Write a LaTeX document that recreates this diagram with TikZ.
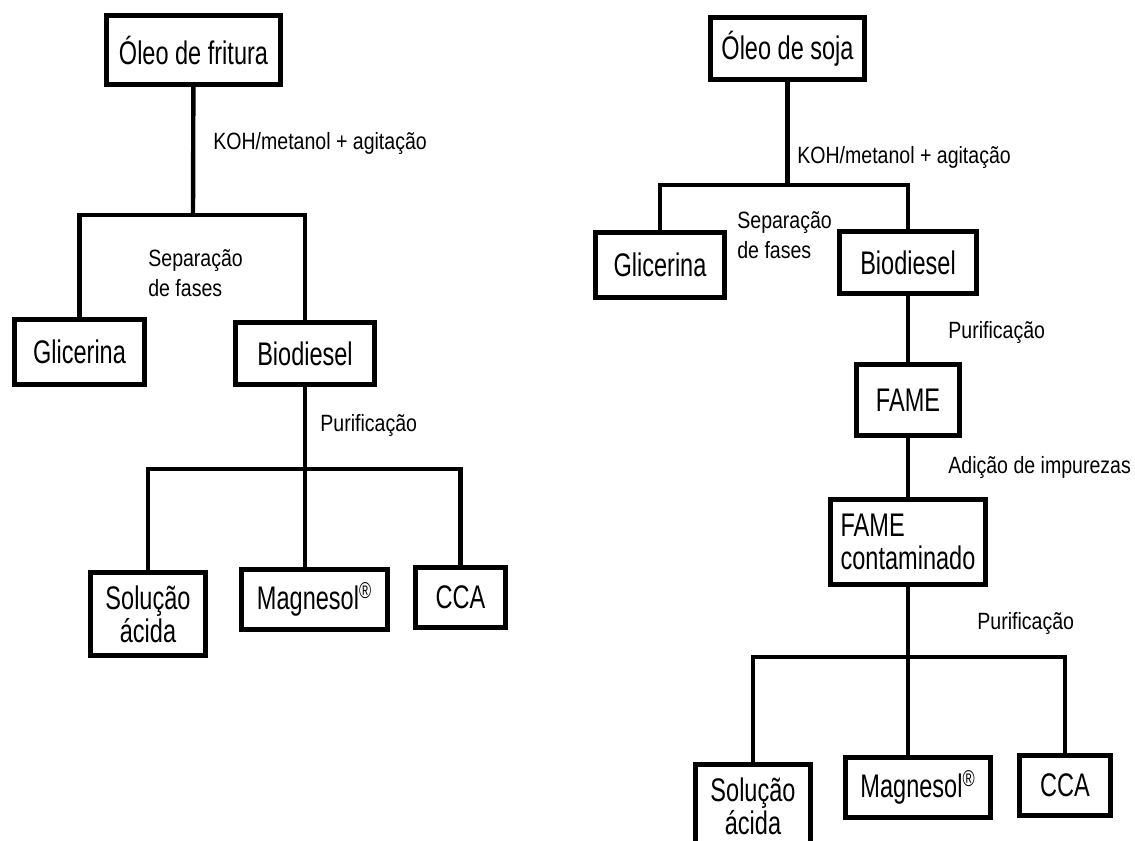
\documentclass[tikz,border=0pt]{standalone}
\usepackage{fontspec}
\setmainfont{Liberation Sans}
\newfontfamily\boxfont[FakeStretch=0.72]{Liberation Sans}
\newfontfamily\stepfont[FakeStretch=0.83]{Liberation Sans}

\begin{document}
\begin{tikzpicture}[x=0.02cm, y=-0.02cm,
  box/.style={rectangle, draw, line width=2.85pt, inner sep=2pt, align=center, font=\boxfont\fontsize{18.6}{18.8}\selectfont},
  steplabel/.style={anchor=west, inner sep=0pt, align=left, font=\stepfont\fontsize{13.4}{17.1}\selectfont},
  link/.style={line width=2.5pt}
]
  \useasboundingbox (0,0) rectangle (1135,841);

  % Left tree - frying oil
  \node[box, minimum width=3.48cm, minimum height=1.38cm] (fritura) at (193.5,50) {Óleo de fritura};
  \node[box, minimum width=2.6cm, minimum height=1.3cm] (glic1) at (79.5,352) {Glicerina};
  \node[box, minimum width=2.78cm, minimum height=1.24cm] (bio1) at (305,353.5) {Biodiesel};
  \node[box, minimum width=2.3cm, minimum height=1.66cm] (sol1) at (148,614) {Solução\\ácida};
  \node[box, minimum width=2.92cm, minimum height=1.2cm] (mag1) at (314.5,599.5) {Magnesol\textsuperscript{®}};
  \node[box, minimum width=1.8cm, minimum height=1.2cm] (cca1) at (460.5,597.5) {CCA};

  \coordinate (split1) at (193,215);
  \coordinate (split2) at (305,469);

  \draw[link] (fritura) -- (split1);
  \draw[link] (glic1.north) |- (split1) -| (bio1.north);
  \draw[link] (bio1) -- (split2);
  \draw[link] (sol1.north) |- (split2) -| (cca1.north);
  \draw[link] (split2) -- (split2 |- mag1.north);

  \node[steplabel] (koh1) at (213,143) {KOH/metanol + agitação};
  \node[steplabel] (sep1) at (148,273) {Separação\\de fases};
  \node[steplabel] (pur1) at (320,425) {Purificação};

  % Right tree - soybean oil
  \node[box, minimum width=3.08cm, minimum height=1.24cm] (soja) at (787.5,48.5) {Óleo de soja};
  \node[box, minimum width=2.58cm, minimum height=1.3cm] (glic2) at (660,265) {Glicerina};
  \node[box, minimum width=2.74cm, minimum height=1.24cm] (bio2) at (908,262.5) {Biodiesel};
  \node[box, minimum width=2.06cm, minimum height=1.42cm] (fame) at (908,400) {FAME};
  \node[box, minimum width=3.1cm, minimum height=1.7cm, align=left] (famec) at (908,542) {FAME\\contaminado};
  \node[box, minimum width=2.3cm, minimum height=1.66cm] (sol2) at (753,806) {Solução\\ácida};
  \node[box, minimum width=2.9cm, minimum height=1.2cm] (mag2) at (918,787.5) {Magnesol\textsuperscript{®}};
  \node[box, minimum width=1.82cm, minimum height=1.2cm] (cca2) at (1065,785.5) {CCA};

  \coordinate (split3) at (787.5,185);
  \coordinate (split4) at (908,657);

  \draw[link] (soja) -- (split3);
  \draw[link] (glic2.north) |- (split3) -| (bio2.north);
  \draw[link] (bio2) -- (fame);
  \draw[link] (fame) -- (famec);
  \draw[link] (famec) -- (split4);
  \draw[link] (sol2.north) |- (split4) -| (cca2.north);
  \draw[link] (split4) -- (split4 |- mag2.north);

  \node[steplabel] (koh2) at (797,157) {KOH/metanol + agitação};
  \node[steplabel] (sep2) at (737,235) {Separação\\de fases};
  \node[steplabel] (pur2) at (948,332) {Purificação};
  \node[steplabel] (add) at (948,467) {Adição de impurezas};
  \node[steplabel] (pur3) at (977,623) {Purificação};
\end{tikzpicture}
\end{document}
